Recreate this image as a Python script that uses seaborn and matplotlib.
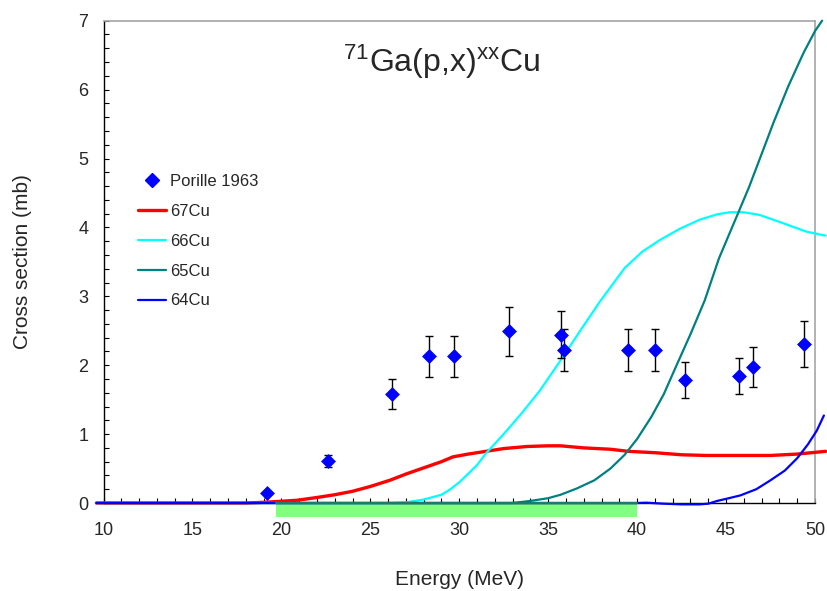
import numpy as np
import pandas as pd
import matplotlib
matplotlib.use("Agg")
import matplotlib.pyplot as plt
from matplotlib.patches import Rectangle
from matplotlib.lines import Line2D
from matplotlib.ticker import MultipleLocator
import seaborn as sns

# ---------------- data ----------------
exp_energy = [19.2, 22.6, 26.2, 28.3, 29.7, 32.8, 35.7, 35.9, 39.5, 41.0, 42.7, 45.7, 46.5, 49.4]
exp_xs     = [0.145, 0.61, 1.58, 2.13, 2.13, 2.49, 2.44, 2.22, 2.22, 2.22, 1.78, 1.84, 1.97, 2.31]
exp_err    = [0.02, 0.09, 0.22, 0.30, 0.30, 0.35, 0.34, 0.31, 0.31, 0.31, 0.26, 0.26, 0.29, 0.33]

cu67_e = [9.6, 18, 19, 20, 20.9, 22, 23, 24, 25, 26.1, 27, 28, 29, 29.65, 30.5, 31.5, 32.5, 33.8, 35,
          35.7, 37, 38.5, 39.5, 41, 42.5, 43.9, 46, 47.5, 49, 50.6]
cu67_x = [0, 0, 0.01, 0.025, 0.04, 0.08, 0.12, 0.17, 0.24, 0.33, 0.42, 0.51, 0.6, 0.67, 0.71, 0.75, 0.79,
          0.82, 0.83, 0.83, 0.8, 0.78, 0.75, 0.73, 0.7, 0.69, 0.69, 0.69, 0.71, 0.75]

cu66_e = [9.6, 26, 27, 28, 29, 29.5, 30, 31, 31.5, 32.5, 33.5, 34.5, 35.7, 36.8, 37.9, 39.3, 40.3, 41.3,
          42.4, 43.5, 44.5, 45.2, 46, 46.9, 48, 49.5, 50.6]
cu66_x = [0, 0, 0.01, 0.05, 0.12, 0.2, 0.3, 0.55, 0.72, 1.0, 1.3, 1.62, 2.07, 2.5, 2.92, 3.41, 3.65, 3.82,
          3.98, 4.11, 4.19, 4.22, 4.22, 4.18, 4.08, 3.94, 3.88]

cu65_e = [9.6, 33, 34, 35, 35.7, 36.6, 37.6, 38.5, 39.3, 40, 40.8, 41.5, 42.15, 43, 43.8, 44.6, 45.6,
          46.3, 47.3, 47.65, 48.5, 49.35, 50.0, 50.4]
cu65_x = [0, 0, 0.03, 0.07, 0.12, 0.21, 0.33, 0.5, 0.7, 0.93, 1.25, 1.58, 1.96, 2.45, 2.94, 3.55, 4.16,
          4.59, 5.27, 5.51, 6.05, 6.53, 6.85, 7.0]

cu64_e = [9.6, 40, 40.5, 41.5, 42.5, 43.5, 44, 44.5, 45, 45.8, 46.7, 47.5, 48.3, 49, 49.6, 50.1, 50.5]
cu64_x = [0, 0, 0.005, -0.01, -0.02, -0.02, -0.01, 0.03, 0.06, 0.11, 0.2, 0.33, 0.47, 0.65, 0.85, 1.05, 1.27]

band = (19.7, 40.0)

series = [("67Cu", cu67_e, cu67_x, "#FF0000", 2.4),
          ("66Cu", cu66_e, cu66_x, "#00FFFF", 1.6),
          ("65Cu", cu65_e, cu65_x, "#008080", 1.6),
          ("64Cu", cu64_e, cu64_x, "#0000FF", 1.6)]

# ---------------- style ----------------
sns.set_theme(style="white")
plt.rcParams["font.family"] = ["Liberation Sans", "DejaVu Sans"]
plt.rcParams["mathtext.fontset"] = "custom"
plt.rcParams["mathtext.rm"] = "Liberation Sans"

fig = plt.figure(figsize=(8.27, 5.91), dpi=100)
ax = fig.add_axes([103.5 / 827, 1 - 503 / 591, (815 - 103.5) / 827, (503 - 20.7) / 591])

# green energy band below the axis
ax.add_patch(Rectangle((band[0], -0.2), band[1] - band[0], 0.2, facecolor="#80FF80",
                       edgecolor="none", clip_on=False, zorder=1))

handles = []
for name, e, x, c, lw in series:
    df = pd.DataFrame({"E": e, "xs": x})
    sns.lineplot(data=df, x="E", y="xs", ax=ax, color=c, linewidth=lw,
                 clip_on=False, zorder=3, sort=False, estimator=None)
    handles.append(Line2D([], [], color=c, lw=lw, label=name))

ax.plot([band[0], band[1]], [0, 0], color="#1F7A6A", lw=1.6, zorder=3.5, clip_on=False)

ax.errorbar(exp_energy, exp_xs, yerr=exp_err, fmt="none", ecolor="black",
            elinewidth=1.0, capsize=3, capthick=1.0, zorder=4)
dexp = pd.DataFrame({"E": exp_energy, "xs": exp_xs})
sns.scatterplot(data=dexp, x="E", y="xs", ax=ax, marker="D", s=50, color="#0000FF",
                edgecolor="#0000FF", linewidth=0.5, zorder=5)

exp_handle = Line2D([], [], marker="D", color="#0000FF", ls="none", markersize=7,
                    label="Porille 1963")
ax.legend(handles=[exp_handle] + handles, loc="upper left",
          bbox_to_anchor=(0.0485, 0.682), frameon=False, fontsize=12,
          handlelength=1.65, handletextpad=0.25, labelspacing=0.89,
          borderpad=0, borderaxespad=0)

ax.text(29.0, 6.4, r"$\mathregular{^{71}Ga(p{,}x)^{xx}Cu}$", ha="center", va="center",
        fontsize=23)

ax.set_xlim(10, 50)
ax.set_ylim(0, 7)
ax.xaxis.set_major_locator(MultipleLocator(5))
ax.xaxis.set_minor_locator(MultipleLocator(1))
ax.yaxis.set_major_locator(MultipleLocator(1))
ax.yaxis.set_minor_locator(MultipleLocator(0.2))
ax.tick_params(axis="both", which="both", direction="in", length=3.5, width=0.8,
               color="black", labelsize=13)
ax.tick_params(axis="x", which="major", pad=14)
ax.tick_params(axis="y", which="major", pad=11)
ax.tick_params(bottom=True, left=True, which="both")

ax.set_xlabel("Energy (MeV)", fontsize=15, labelpad=22)
ax.set_ylabel("Cross section (mb)", fontsize=15, labelpad=33)

for s in ["left", "bottom"]:
    ax.spines[s].set_color("black")
    ax.spines[s].set_linewidth(1.0)
for s in ["top", "right"]:
    ax.spines[s].set_color("#A6A6A6")
    ax.spines[s].set_linewidth(1.2)

fig.savefig("out.png", dpi=100)
